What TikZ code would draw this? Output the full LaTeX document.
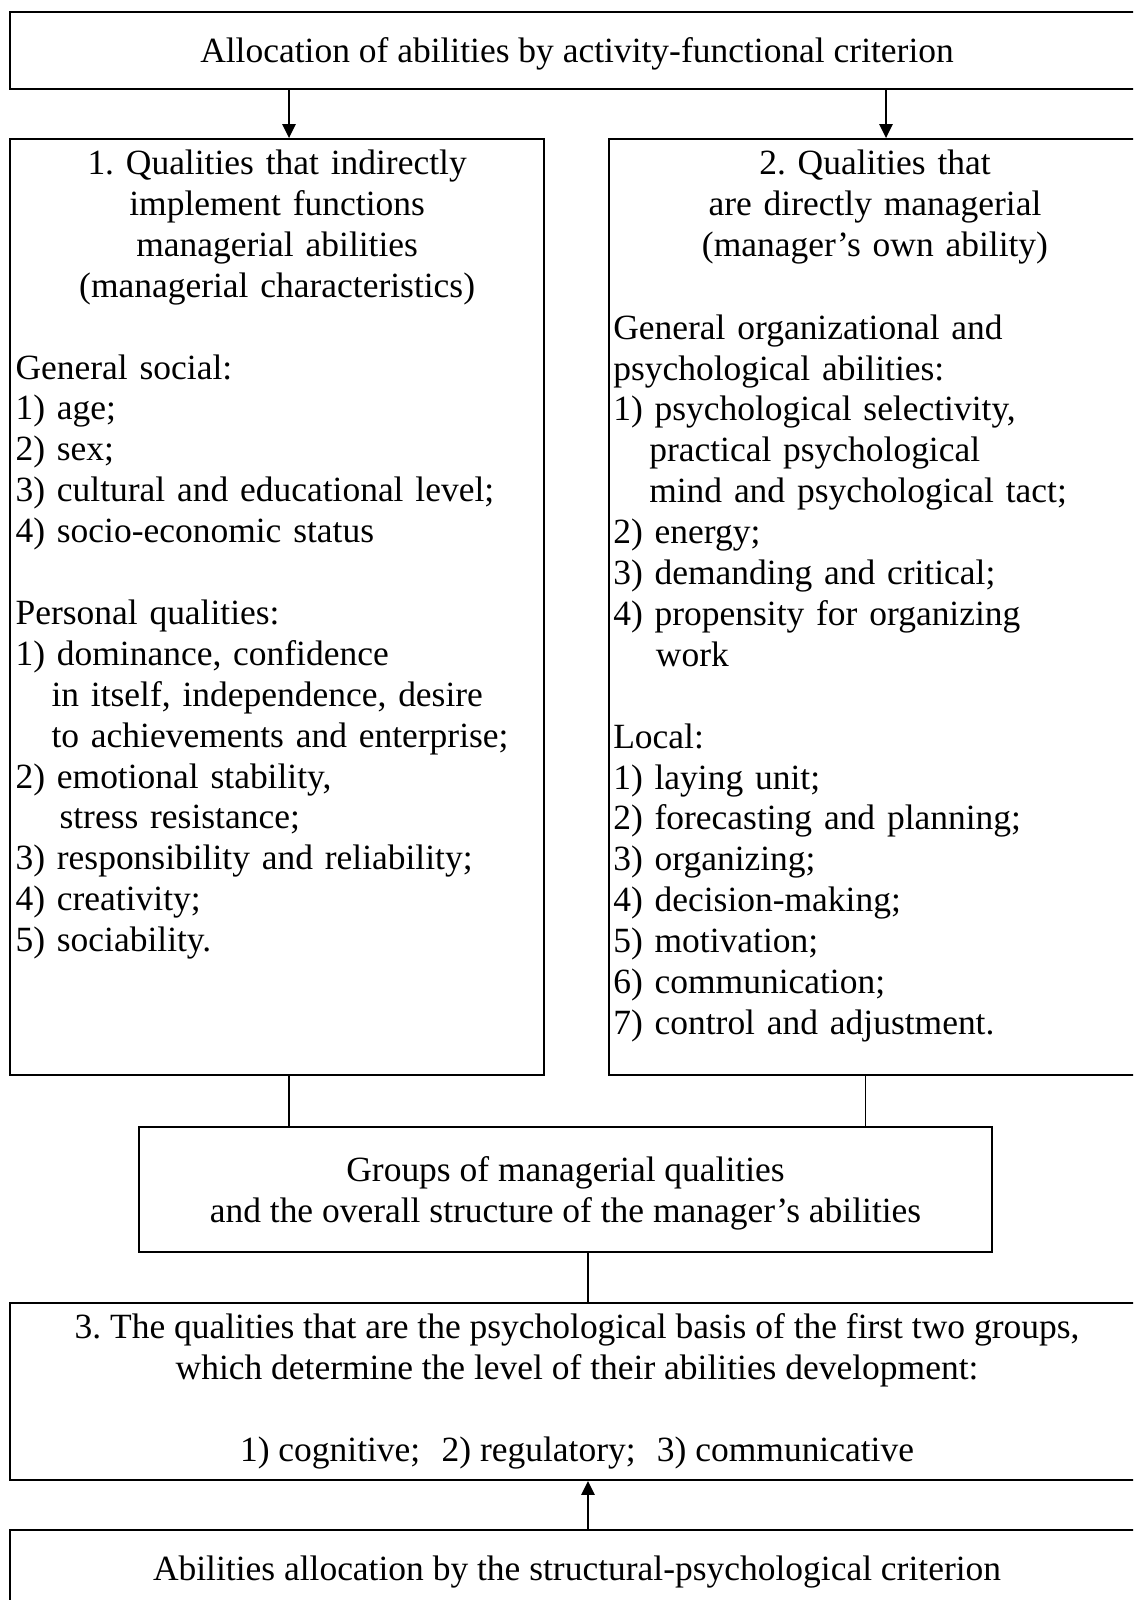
\documentclass[tikz,border=0pt]{standalone}
\usepackage{fontspec}
\setmainfont{Liberation Serif}
\usetikzlibrary{arrows.meta}
\newcommand\txtfont{\fontsize{26.6pt}{30.68pt}\selectfont\frenchspacing}
\begin{document}
\begin{tikzpicture}[x=0.75pt,y=-0.75pt,
  box/.style={draw, line width=1.4pt, rectangle, inner sep=0pt, align=center, font=\txtfont},
  txt/.style={inner sep=0pt, font=\txtfont},
  conn/.style={line width=1.3pt},
  arr/.style={conn, -{Triangle[length=10.5pt,width=10pt]}}]
\useasboundingbox (0,0) rectangle (1133,1600);
\clip (0,0) rectangle (1133,1600);
\node[box, text depth=0pt, minimum width=850.4pt, minimum height=57.4pt] (top) at (577,50.5) {Allocation of abilities by activity-functional criterion};
\node[box, minimum width=400.4pt, minimum height=702pt] (b1) at (277.1,607) {};
\node[box, minimum width=399pt, minimum height=702pt] (b2) at (875,607) {};
\node[box, text depth=0pt, minimum width=640pt, minimum height=93.75pt] (grp) at (565.5,1189.5) {Groups of managerial qualities\\and the overall structure of the manager’s abilities};
\node[box, minimum width=850.4pt, minimum height=132.75pt] (b3) at (577,1391.5) {3. The qualities that are the psychological basis of the first two groups,\\which determine the level of their abilities development:\\[30.68pt]1) cognitive;\hspace{0.35em} 2) regulatory;\hspace{0.35em} 3) communicative};
\node[box, text depth=0pt, minimum width=850.4pt, minimum height=57.4pt] (bot) at (577,1568.5) {Abilities allocation by the structural-psychological criterion};

\node[txt, anchor=base, text width=395pt, align=center] (h1) at (277.1,174.8) {1. Qualities that indirectly\\implement functions\\managerial abilities\\(managerial characteristics)};
\node[txt, anchor=base west, text width=395pt, align=left] (l1) at (15.3,379) {General social:\\1) age;\\2) sex;\\3) cultural and educational level;\\4) socio-economic status\\[30.68pt]Personal qualities:\\1) dominance, confidence\\\hspace*{27pt}in itself, independence, desire\\\hspace*{27pt}to achievements and enterprise;\\2) emotional stability,\\\hspace*{33pt}stress resistance;\\3) responsibility and reliability;\\4) creativity;\\5) sociability.};

\node[txt, anchor=base, text width=395pt, align=center] (h2) at (875,174.8) {2. Qualities that\\are directly managerial\\(manager’s own ability)};
\node[txt, anchor=base west, text width=395pt, align=left] (l2) at (613,339.1) {General organizational and\\psychological abilities:\\1) psychological selectivity,\\\hspace*{27pt}practical psychological\\\hspace*{27pt}mind and psychological tact;\\2) energy;\\3) demanding and critical;\\4) propensity for organizing\\\hspace*{32pt}work\\[30.68pt]Local:\\1) laying unit;\\2) forecasting and planning;\\3) organizing;\\4) decision-making;\\5) motivation;\\6) communication;\\7) control and adjustment.};

\coordinate (ca) at (289,0);
\coordinate (cb) at (886,0);
\coordinate (cc) at (865.6,0);
\coordinate (cd) at (588,0);
\draw[arr] (ca |- top.south) -- (ca |- b1.north);
\draw[arr] (cb |- top.south) -- (cb |- b2.north);
\draw[conn] (ca |- b1.south) -- (ca |- grp.north);
\draw[conn] (cc |- b2.south) -- (cc |- grp.north);
\draw[conn] (cd |- grp.south) -- (cd |- b3.north);
\draw[arr] (cd |- bot.north) -- (cd |- b3.south);
\end{tikzpicture}
\end{document}
